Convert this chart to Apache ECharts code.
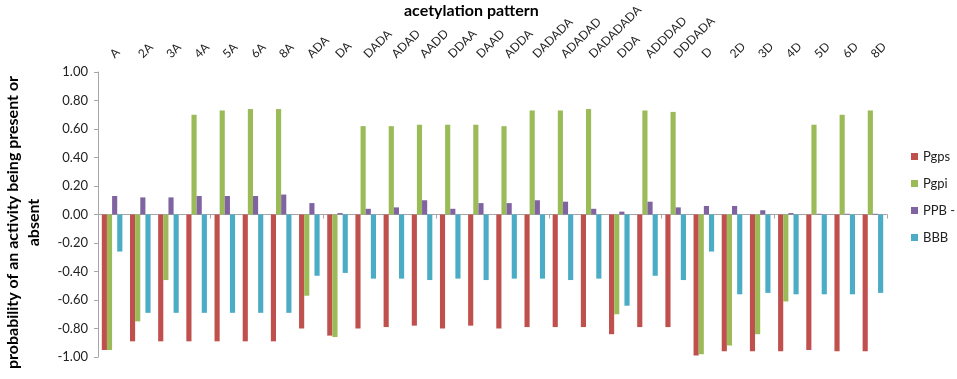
<!DOCTYPE html>
<html>
<head>
<meta charset="utf-8">
<script src="https://cdn.jsdelivr.net/npm/echarts@6/dist/echarts.min.js"></script>
<style>
    html, body { margin: 0; padding: 0; background: #fff; }
    #chart { width: 957px; height: 379px; }
</style>
</head>
<body>
<div id="chart"></div>
<script>
var patterns = ['A', '2A', '3A', '4A', '5A', '6A', '8A', 'ADA', 'DA', 'DADA', 'ADAD', 'AADD', 'DDAA', 'DAAD',
    'ADDA', 'DADADA', 'ADADAD', 'DADADADA', 'DDA', 'ADDDAD', 'DDDADA', 'D', '2D', '3D', '4D', '5D', '6D', '8D']

var pgps = [-0.95, -0.89, -0.89, -0.89, -0.89, -0.89, -0.89, -0.80, -0.85, -0.80, -0.79, -0.78, -0.80, -0.78,
    -0.80, -0.79, -0.79, -0.79, -0.84, -0.79, -0.79, -0.99, -0.96, -0.96, -0.96, -0.95, -0.96, -0.96]
var pgpi = [-0.95, -0.75, -0.46, 0.70, 0.73, 0.74, 0.74, -0.57, -0.86, 0.62, 0.62, 0.63, 0.63, 0.63,
    0.62, 0.73, 0.73, 0.74, -0.70, 0.73, 0.72, -0.98, -0.92, -0.84, -0.61, 0.63, 0.70, 0.73]
var ppb = [0.13, 0.12, 0.12, 0.13, 0.13, 0.13, 0.14, 0.08, 0.01, 0.04, 0.05, 0.10, 0.04, 0.08,
    0.08, 0.10, 0.09, 0.04, 0.02, 0.09, 0.05, 0.06, 0.06, 0.03, 0.01, 0.005, 0.005, 0.005]
var bbb = [-0.26, -0.69, -0.69, -0.69, -0.69, -0.69, -0.69, -0.43, -0.41, -0.45, -0.45, -0.46, -0.45, -0.46,
    -0.45, -0.45, -0.46, -0.45, -0.64, -0.43, -0.46, -0.26, -0.56, -0.55, -0.56, -0.56, -0.56, -0.55]

var seriesNames = ['Pgps', 'Pgpi', 'PPB -', 'BBB']
var seriesColors = ['#C0504D', '#9BBB59', '#8064A2', '#4BACC6']

function drawChart() {
    var box = document.getElementById('chart')
    var instance = echarts.init(box, null, {renderer: 'canvas'})
    var font = 'Lato, "Open Sans", sans-serif'

    var values = [pgps, pgpi, ppb, bbb]
    var series = values.map(function (v, i) {
        return {
            name: seriesNames[i],
            type: 'bar',
            xAxisIndex: 0,
            data: v,
            barGap: '0%',
            barCategoryGap: '27%',
            itemStyle: {color: seriesColors[i]}
        }
    })

    let option = {
        animation: false,
        textStyle: {fontFamily: font},
        graphic: [{
            type: 'text',
            left: 404,
            top: 3,
            style: {text: 'acetylation pattern', font: 'bold 16px ' + font, fill: '#000'}
        }],
        legend: {
            orient: 'vertical',
            left: 906,
            top: 145,
            itemWidth: 7,
            itemHeight: 7,
            itemGap: 14,
            icon: 'rect',
            data: seriesNames,
            textStyle: {fontSize: 13, color: '#222', fontFamily: font}
        },
        grid: {left: 98, right: 70, top: 72, bottom: 22, outerBoundsMode: 'none'},
        xAxis: [
            {
                type: 'category',
                data: patterns,
                axisLine: {onZero: true, lineStyle: {color: '#a6a6a6'}},
                axisTick: {show: true, length: 4, lineStyle: {color: '#a6a6a6'}},
                axisLabel: {show: false}
            },
            {
                type: 'category',
                position: 'top',
                data: patterns,
                axisLine: {show: false},
                axisTick: {show: false},
                axisLabel: {
                    rotate: -45,
                    margin: 16,
                    align: 'left',
                    verticalAlign: 'middle',
                    fontSize: 12,
                    color: '#222',
                    interval: 0
                }
            }
        ],
        yAxis: {
            type: 'value',
            min: -1,
            max: 1,
            interval: 0.2,
            name: 'probability of an activity being present or\nabsent',
            nameLocation: 'middle',
            nameRotate: 90,
            nameGap: 54,
            nameTextStyle: {fontSize: 16, fontWeight: 'bold', color: '#000', lineHeight: 21, padding: [0, 16, 0, 0]},
            splitLine: {show: false},
            axisLine: {show: true, lineStyle: {color: '#a6a6a6'}},
            axisTick: {show: true, length: 4, lineStyle: {color: '#a6a6a6'}},
            axisLabel: {
                fontSize: 13,
                color: '#222',
                margin: 10,
                formatter: function (v) { return v.toFixed(2) }
            }
        },
        series: series
    };
    instance.setOption(option)
}

drawChart()
</script>
</body>
</html>
